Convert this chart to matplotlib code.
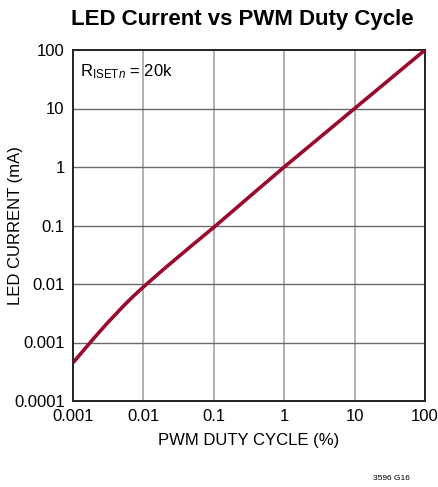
import matplotlib
matplotlib.use("Agg")
import matplotlib.pyplot as plt
from matplotlib import font_manager as fm

names = {f.name for f in fm.fontManager.ttflist}
FONT = "Liberation Sans Narrow" if "Liberation Sans Narrow" in names else "Liberation Sans"
plt.rcParams['font.family'] = [FONT, 'DejaVu Sans']
plt.rcParams['mathtext.fontset'] = 'custom'
plt.rcParams['mathtext.rm'] = FONT
plt.rcParams['mathtext.it'] = FONT + ':italic'

duty = [0.001, 0.0015, 0.002, 0.003, 0.005, 0.007, 0.01, 0.02, 0.05, 0.1, 0.3, 1, 3, 10, 30, 100]
current = [0.00045, 0.0008, 0.0012, 0.00208, 0.0040, 0.0060, 0.0089, 0.0185, 0.0467, 0.093,
           0.29, 1.0, 3.0, 10.0, 30.0, 100.0]
xticks = [0.001, 0.01, 0.1, 1, 10, 100]
xticklabels = ["0.001", "0.01", "0.1", "1", "10", "100"]
yticks = [0.0001, 0.001, 0.01, 0.1, 1, 10, 100]
yticklabels = ["0.0001", "0.001", "0.01", "0.1", "1", "10", "100"]

fig = plt.figure(figsize=(4.38, 4.87), dpi=100)
ax = fig.add_axes([73/438, 1-401/487, (425-73)/438, (401-50)/487])
ax.set_xscale('log')
ax.set_yscale('log')
ax.set_xlim(0.001, 100)
ax.set_ylim(0.0001, 100)

for x in xticks[1:-1]:
    ax.axvline(x, color='#a3a3a3', lw=1.2, zorder=1)
for y in yticks[1:-1]:
    ax.axhline(y, color='#6a6a6a', lw=1.0, zorder=1)

ax.plot(duty, current, color='#9a0a2e', lw=2.6, zorder=3, solid_capstyle='butt',
        solid_joinstyle='round')

ax.set_xticks(xticks)
ax.set_xticklabels(xticklabels)
ax.set_yticks(yticks)
ax.set_yticklabels(yticklabels)
ax.minorticks_off()
ax.tick_params(length=0, labelsize=12, pad=6)
for s in ax.spines.values():
    s.set_color('#222222')
    s.set_linewidth(1.4)

ax.set_xlabel("PWM DUTY CYCLE (%)", fontsize=12, labelpad=6)
ax.set_ylabel("LED CURRENT (mA)", fontsize=12)
ax.yaxis.set_label_coords(-0.142, 0.5)

ax.text(0.02, 0.965, r"R$_{\mathrm{ISET}\mathit{n}}$ = 20k", transform=ax.transAxes,
        fontsize=12, va='top', ha='left')

fig.text(242/438, 1-19/487, "LED Current vs PWM Duty Cycle", fontsize=16, fontweight='bold',
         ha='center', va='center')
fig.text(410/438, 1-478/487, "3596 G16", fontsize=6, ha='right', va='center')

fig.savefig("out.png", dpi=100)
